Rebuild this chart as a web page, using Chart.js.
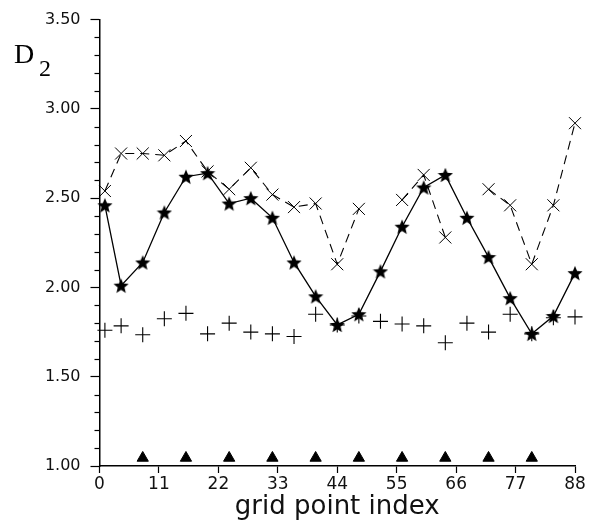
<!DOCTYPE html>
<html>
<head>
<meta charset="utf-8">
<script src="https://cdn.jsdelivr.net/npm/chart.js@4.4.0/dist/chart.umd.min.js"></script>
<style>
  html, body { margin: 0; padding: 0; background: #fff; }
  #wrap { width: 592px; height: 525px; }
</style>
</head>
<body>
<div id="wrap"><canvas id="chartD2"></canvas></div>
<script>
// grid points where D2 was computed
const gridIndex = [1, 4, 8, 12, 16, 20, 24, 28, 32, 36, 40, 44, 48, 52, 56, 60, 64, 68, 72, 76, 80, 84, 88]
const starValues = [2.46, 2.01, 2.14, 2.42, 2.62, 2.64, 2.47, 2.50, 2.39, 2.14, 1.95, 1.79, 1.85, 2.09, 2.34, 2.56, 2.63, 2.39, 2.17, 1.94, 1.74, 1.84, 2.08]
const crossValues = [2.54, 2.75, 2.75, 2.74, 2.82, 2.65, 2.55, 2.67, 2.52, 2.45, 2.47, 2.13, 2.44, null, 2.49, 2.63, 2.28, null, 2.55, 2.46, 2.13, 2.46, 2.92]
const plusValues = [1.76, 1.785, 1.735, 1.825, 1.855, 1.74, 1.80, 1.75, 1.74, 1.725, 1.85, 1.79, 1.84, 1.81, 1.795, 1.785, 1.69, 1.80, 1.75, 1.85, 1.74, 1.83, 1.835]
const triangleIndex = [8, 16, 24, 32, 40, 48, 56, 64, 72, 80]
const triangleValues = [1.045, 1.045, 1.045, 1.045, 1.045, 1.045, 1.045, 1.045, 1.045, 1.045]
const xTickLabels = [0, 11, 22, 33, 44, 55, 66, 77, 88]
const yTickLabels = [1.00, 1.50, 2.00, 2.50, 3.00, 3.50]

const toPoints = (xs, ys) => xs.map((x, i) => ({ x: x, y: ys[i] }))

// filled five point star used as marker
function makeStar(size) {
   const c = document.createElement('canvas')
   c.width = size
   c.height = size
   const g = c.getContext('2d')
   const cx = size / 2, cy = size / 2 + 0.7
   const outer = size / 2, inner = outer * 0.44
   g.beginPath()
   for (let i = 0; i < 10; i++) {
      const r = i % 2 == 0 ? outer : inner
      const a = -Math.PI / 2 + i * Math.PI / 5
      g.lineTo(cx + r * Math.cos(a), cy + r * Math.sin(a))
   }
   g.closePath()
   g.fillStyle = '#000'
   g.fill()
   return c
}
const starImg = makeStar(16)

// short ticks every 0.1 between the labelled ones
const minorTicks = {
   id: 'minorTicks',
   afterDraw(chart) {
      const y = chart.scales.y
      const ctx = chart.ctx
      ctx.save()
      ctx.strokeStyle = '#000'
      ctx.lineWidth = 1.2
      for (let k = 10; k <= 35; k++) {
         if (k % 5 == 0) continue
         const py = Math.round(y.getPixelForValue(k / 10)) + 0.5
         ctx.beginPath()
         ctx.moveTo(y.right - 5, py)
         ctx.lineTo(y.right, py)
         ctx.stroke()
      }
      // axis name in the corner
      ctx.fillStyle = '#000'
      ctx.font = '28px "Liberation Serif", serif'
      ctx.fillText('D', 14, 63)
      ctx.font = '24px "Liberation Serif", serif'
      ctx.fillText('2', 39, 76)
      ctx.restore()
   }
}

const tickFont = { family: 'DejaVu Sans', size: 16 }

new Chart(document.getElementById('chartD2'), {
   type: 'scatter',
   data: {
      datasets: [{
         data: toPoints(gridIndex, crossValues),
         showLine: true,
         borderColor: '#000',
         borderWidth: 1.1,
         borderDash: [9, 6],
         pointStyle: 'crossRot',
         pointRadius: 8.5,
         pointBorderWidth: 1,
         pointBorderColor: '#000',
         clip: false
      }, {
         data: toPoints(gridIndex, plusValues),
         showLine: false,
         pointStyle: 'cross',
         pointRadius: 7.5,
         pointBorderWidth: 1.1,
         pointBorderColor: '#000',
         clip: false
      }, {
         data: toPoints(gridIndex, starValues),
         showLine: true,
         borderColor: '#000',
         borderWidth: 1.3,
         pointStyle: starImg,
         clip: false
      }, {
         data: toPoints(triangleIndex, triangleValues),
         showLine: false,
         pointStyle: 'triangle',
         pointRadius: 6.5,
         pointBackgroundColor: '#000',
         pointBorderColor: '#000',
         pointBorderWidth: 1,
         clip: false
      }]
   },
   options: {
      responsive: true,
      maintainAspectRatio: false,
      animation: false,
      layout: { padding: { top: 14, right: 17, left: 0, bottom: 0 } },
      plugins: {
         legend: { display: false },
         tooltip: { enabled: false }
      },
      scales: {
         x: {
            type: 'linear',
            min: 0,
            max: 88,
            afterBuildTicks: (s) => { s.ticks = xTickLabels.map(v => ({ value: v })) },
            afterFit: (s) => { s.height = 59 },
            ticks: { font: { family: 'DejaVu Sans', size: 17 }, color: '#111', padding: 1, maxRotation: 0, autoSkip: false },
            grid: { drawOnChartArea: false, drawTicks: true, tickLength: 7, color: '#000', tickWidth: 1.2 },
            border: { display: true, color: '#000', width: 1.5 },
            title: {
               display: true,
               text: 'grid point index',
               font: { family: 'DejaVu Sans', size: 26 },
               color: '#111',
               padding: { top: 0, bottom: 2 }
            }
         },
         y: {
            type: 'linear',
            min: 1,
            max: 3.5,
            afterBuildTicks: (s) => { s.ticks = yTickLabels.map(v => ({ value: v })) },
            afterFit: (s) => { s.width = 99.5 },
            ticks: { font: tickFont, color: '#111', padding: 10, callback: (v) => Number(v).toFixed(2) },
            grid: { drawOnChartArea: false, drawTicks: true, tickLength: 9, color: '#000', tickWidth: 1.2 },
            border: { display: true, color: '#000', width: 1.5 }
         }
      }
   },
   plugins: [minorTicks]
})
</script>
</body>
</html>
